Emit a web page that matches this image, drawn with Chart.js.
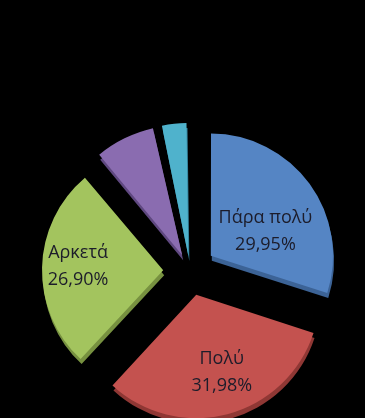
<!DOCTYPE html>
<html>
<head>
<meta charset="utf-8">
<script src="https://cdn.jsdelivr.net/npm/chart.js@4/dist/chart.umd.min.js"></script>
<style>
  html, body { margin: 0; padding: 0; background: #000; }
  canvas { display: block; }
</style>
</head>
<body>
<canvas id="pieChart" width="365" height="418"></canvas>
<script>
// answers and their shares (%)
const categories = ["Πάρα πολύ", "Πολύ", "Αρκετά", "Λίγο", "Καθόλου"];
const shares = [29.95, 31.98, 26.90, 7.75, 3.42];
const shownLabels = ["Πάρα πολύ", "Πολύ", "Αρκετά", "", ""];

const fills = ["#5585c4", "#c4524f", "#a3c45e", "#8a6cb0", "#4fb2cc"];
const sides = ["#3c6396", "#8f3734", "#779140", "#5f4880", "#33809a"];

const EXPLODE = 27;   // px each slice is pulled out
const DEPTH = 5;      // px of the darker side under each slice
// small nudges for the data labels, [dx, dy]
const labelNudge = [[-7, 20], [6, 2], [-10, -3], [0, 0], [0, 0]];

// the arc element moves a slice by offset/4 * (1 + fix), so undo that
function offsetFor(ctx) {
  const data = ctx.dataset.data;
  const total = data.reduce((a, b) => a + b, 0);
  const circ = data[ctx.dataIndex] / total * Math.PI * 2;
  const fix = 1 - Math.sin(Math.min(Math.PI, circ));
  return 4 * EXPLODE / (1 + fix);
}

const sidePlugin = {
  id: "sidePlugin",
  beforeDatasetsDraw(chart) {
    const ctx = chart.ctx;
    const meta = chart.getDatasetMeta(0);
    meta.data.forEach((arc, i) => {
      const bg = arc.options.backgroundColor;
      ctx.save();
      ctx.translate(1, DEPTH);
      arc.options.backgroundColor = sides[i];
      arc.draw(ctx);
      arc.options.backgroundColor = bg;
      ctx.restore();
    });
  }
};

const labelPlugin = {
  id: "labelPlugin",
  afterDatasetsDraw(chart) {
    const ctx = chart.ctx;
    const meta = chart.getDatasetMeta(0);
    ctx.save();
    ctx.font = "18px 'Open Sans', 'DejaVu Sans', sans-serif";
    ctx.fillStyle = "#1c1c2a";
    ctx.textAlign = "center";
    ctx.textBaseline = "middle";
    meta.data.forEach((arc, i) => {
      if (!shownLabels[i]) return;
      const mid = (arc.startAngle + arc.endAngle) / 2;
      const r = arc.outerRadius * 0.62 + EXPLODE;
      const x = arc.x + Math.cos(mid) * r + labelNudge[i][0];
      const y = arc.y + Math.sin(mid) * r + labelNudge[i][1];
      ctx.fillText(shownLabels[i], x, y - 13);
      ctx.fillText(shares[i].toFixed(2).replace(".", ",") + "%", x, y + 14);
    });
    ctx.restore();
  }
};

new Chart(document.getElementById("pieChart"), {
  type: "pie",
  data: {
    labels: categories,
    datasets: [{
      data: shares,
      backgroundColor: fills,
      borderWidth: 0,
      offset: offsetFor
    }]
  },
  options: {
    responsive: false,
    animation: false,
    events: [],
    radius: 121,
    layout: { padding: { left: 15, right: 0, top: 124, bottom: 0 } },
    plugins: {
      legend: { display: false },
      tooltip: { enabled: false },
      title: { display: false }
    }
  },
  plugins: [sidePlugin, labelPlugin]
});
</script>
</body>
</html>
